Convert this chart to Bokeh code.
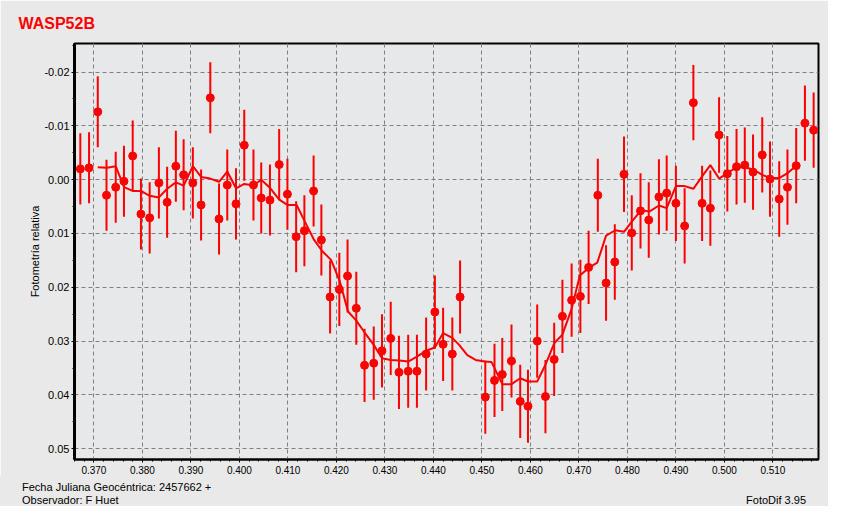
from bokeh.plotting import figure
from bokeh.layouts import column
from bokeh.models import (ColumnDataSource, Range1d, SingleIntervalTicker,
                          NumeralTickFormatter, Title, Div)
from bokeh.embed import file_html
from bokeh.resources import INLINE

# ---------------- data ----------------
jd = [0.3672, 0.3690, 0.3708, 0.3726, 0.3745, 0.3762, 0.3780, 0.3797, 0.3815, 0.3834,
      0.3851, 0.3869, 0.3885, 0.3904, 0.3921, 0.3940, 0.3958, 0.3975, 0.3993, 0.4010,
      0.4029, 0.4045, 0.4063, 0.4082, 0.4099, 0.4117, 0.4134, 0.4153, 0.4169, 0.4187,
      0.4206, 0.4223, 0.4241, 0.4258, 0.4277, 0.4294, 0.4312, 0.4329, 0.4348, 0.4366,
      0.4385, 0.4403, 0.4420, 0.4439, 0.4455, 0.4507, 0.4526, 0.4542, 0.4561, 0.4579,
      0.4595, 0.4614, 0.4631, 0.4649, 0.4666, 0.4685, 0.4703, 0.4720, 0.4739, 0.4756,
      0.4774, 0.4793, 0.4809, 0.4827, 0.4844, 0.4865, 0.4881, 0.4900, 0.4918, 0.4936,
      0.4954, 0.4971, 0.4989, 0.5006, 0.5025, 0.5042, 0.5059, 0.5078, 0.5094, 0.5113,
      0.5130, 0.5148, 0.5166, 0.5184]
mag = [-0.0020, -0.0022, -0.0126, 0.0029, 0.0014, 0.0003, -0.0044, 0.0064, 0.0071, 0.0006,
       0.0042, -0.0025, -0.0009, 0.0006, 0.0047, -0.0152, 0.0073, 0.0010, 0.0045, -0.0064,
       0.0010, 0.0034, 0.0038, -0.0028, 0.0027, 0.0106, 0.0095, 0.0021, 0.0112, 0.0218,
       0.0204, 0.0179, 0.0239, 0.0345, 0.0341, 0.0318, 0.0295, 0.0358, 0.0356, 0.0356,
       0.0324, 0.0246, 0.0306, 0.0324, 0.0218, 0.0404, 0.0373, 0.0362, 0.0337, 0.0412,
       0.0421, 0.0300, 0.0403, 0.0334, 0.0254, 0.0224, 0.0217, 0.0163, 0.0029, 0.0192,
       0.0153, -0.0010, 0.0099, 0.0058, 0.0075, 0.0032, 0.0025, 0.0044, 0.0086, -0.0143,
       0.0044, 0.0053, -0.0083, -0.0011, -0.0024, -0.0027, -0.0014, -0.0046, -0.0001, 0.0036,
       0.0014, -0.0026, -0.0105, -0.0092]
err = [0.0066] * 29 + [0.0068] * 30 + [0.0070] * 25

avg_jd = [0.3708, 0.3727, 0.3745, 0.3762, 0.3780, 0.3797, 0.3815, 0.3834, 0.3851, 0.3869,
          0.3885, 0.3904, 0.3921, 0.3940, 0.3958, 0.3975, 0.3993, 0.4010, 0.4029, 0.4045,
          0.4064, 0.4082, 0.4099, 0.4118, 0.4135, 0.4154, 0.4171, 0.4189, 0.4207, 0.4224,
          0.4241, 0.4259, 0.4277, 0.4294, 0.4312, 0.4330, 0.4348, 0.4366, 0.4385, 0.4403,
          0.4420, 0.4439, 0.4453, 0.4470, 0.4487, 0.4506, 0.4520, 0.4542, 0.4561, 0.4579,
          0.4595, 0.4614, 0.4631, 0.4649, 0.4666, 0.4685, 0.4702, 0.4720, 0.4738, 0.4756,
          0.4775, 0.4793, 0.4809, 0.4828, 0.4846, 0.4865, 0.4881, 0.4900, 0.4918, 0.4936,
          0.4954, 0.4971, 0.4989, 0.5006, 0.5025, 0.5042, 0.5059, 0.5078, 0.5094, 0.5113,
          0.5130, 0.5148]
avg_mag = [-0.0023, -0.0022, -0.0025, 0.0014, 0.0021, 0.0021, 0.0030, 0.0033, 0.0017, 0.0005,
           0.0011, -0.0025, -0.0005, -0.0002, 0.0004, -0.0015, 0.0016, 0.0008, 0.0011, 0.0000,
           0.0016, 0.0037, 0.0047, 0.0047, 0.0078, 0.0112, 0.0133, 0.0149, 0.0189, 0.0245,
           0.0262, 0.0285, 0.0307, 0.0332, 0.0335, 0.0336, 0.0338, 0.0329, 0.0318, 0.0312,
           0.0285, 0.0294, 0.0307, 0.0326, 0.0335, 0.0338, 0.0339, 0.0380, 0.0380, 0.0369,
           0.0375, 0.0375, 0.0344, 0.0304, 0.0288, 0.0240, 0.0178, 0.0164, 0.0154, 0.0104,
           0.0094, 0.0097, 0.0078, 0.0057, 0.0059, 0.0048, 0.0053, 0.0012, 0.0012, 0.0017,
           -0.0006, -0.0027, -0.0002, -0.0012, -0.0023, -0.0023, -0.0019, -0.0009, -0.0003, -0.0003,
           -0.0012, -0.0026]

title_text = "WASP52B"
y_label = "Fotometría relativa"
foot_left1 = "Fecha Juliana Geocéntrica: 2457662 +"
foot_left2 = "Observador: F Huet"
foot_right = "FotoDif 3.95"

# ---------------- figure ----------------
RED = "#FF0000"
FONT = "Liberation Sans"
BG = "#E9E9E9"
W, H_FIG, H_FOOT = 828, 476, 30

p = figure(width=W, height=H_FIG, output_backend="svg", toolbar_location=None,
           x_range=Range1d(0.3660, 0.5194), y_range=Range1d(0.0520, -0.0253),
           min_border_left=74, min_border_right=10, min_border_top=43, min_border_bottom=17)

p.title = Title(text=title_text, align="left", offset=-56, standoff=23,
                text_font=FONT, text_font_size="16px", text_font_style="bold",
                text_color=RED)

p.background_fill_color = "#E6E8EA"
p.border_fill_color = BG
p.outline_line_color = "black"
p.outline_line_width = 2

src = ColumnDataSource(dict(
    x=jd, y=mag,
    lo=[m - e for m, e in zip(mag, err)],
    hi=[m + e for m, e in zip(mag, err)],
))
avg = ColumnDataSource(dict(x=avg_jd, y=avg_mag))

p.segment(x0="x", y0="lo", x1="x", y1="hi", source=src, line_color=RED, line_width=2)
p.line(x="x", y="y", source=avg, line_color=RED, line_width=2)
p.scatter(x="x", y="y", source=src, marker="circle", size=8,
          fill_color=RED, line_color=RED, line_width=1)

# axes
p.xaxis.ticker = SingleIntervalTicker(interval=0.01, num_minor_ticks=5)
p.yaxis.ticker = SingleIntervalTicker(interval=0.01, num_minor_ticks=2)
p.xaxis.formatter = NumeralTickFormatter(format="0.000")
p.yaxis.formatter = NumeralTickFormatter(format="0.00")
for ax in (p.xaxis, p.yaxis):
    ax.axis_line_color = "black"
    ax.major_tick_line_color = "black"
    ax.minor_tick_line_color = "black"
    ax.major_tick_in = 0
    ax.major_tick_out = 3
    ax.minor_tick_in = 0
    ax.minor_tick_out = 2
    ax.major_label_text_font = FONT
    ax.major_label_text_color = "black"
p.yaxis.axis_line_width = 3
p.xaxis.axis_line_width = 2
p.xaxis.major_label_text_font_size = "10px"
p.yaxis.major_label_text_font_size = "11px"
p.xaxis.major_label_standoff = 3
p.yaxis.major_label_standoff = 2
p.yaxis.axis_label = y_label
p.yaxis.axis_label_text_font = FONT
p.yaxis.axis_label_text_font_size = "11px"
p.yaxis.axis_label_text_font_style = "normal"
p.yaxis.axis_label_text_color = "black"
p.yaxis.axis_label_standoff = 0

for g in (p.xgrid, p.ygrid):
    g.grid_line_color = "#808080"
    g.grid_line_dash = "4 3"
    g.grid_line_width = 1

# footer (outside the plot frame)
foot_html = (
    f'<div style="position:relative;width:{W}px;height:{H_FOOT}px;'
    f'font-family:\'{FONT}\';font-size:11px;color:black;line-height:13px;">'
    f'<div style="position:absolute;left:22px;top:5px;white-space:nowrap;">{foot_left1}</div>'
    f'<div style="position:absolute;left:22px;top:18px;white-space:nowrap;">{foot_left2}</div>'
    f'<div style="position:absolute;right:22px;top:18px;white-space:nowrap;">{foot_right}</div>'
    '</div>'
)
foot = Div(text=foot_html, width=W, height=H_FOOT, margin=(0, 0, 0, 0),
           styles={"background-color": BG})

layout = column(p, foot, spacing=0)

open("out.html", "w").write(file_html(layout, INLINE))
